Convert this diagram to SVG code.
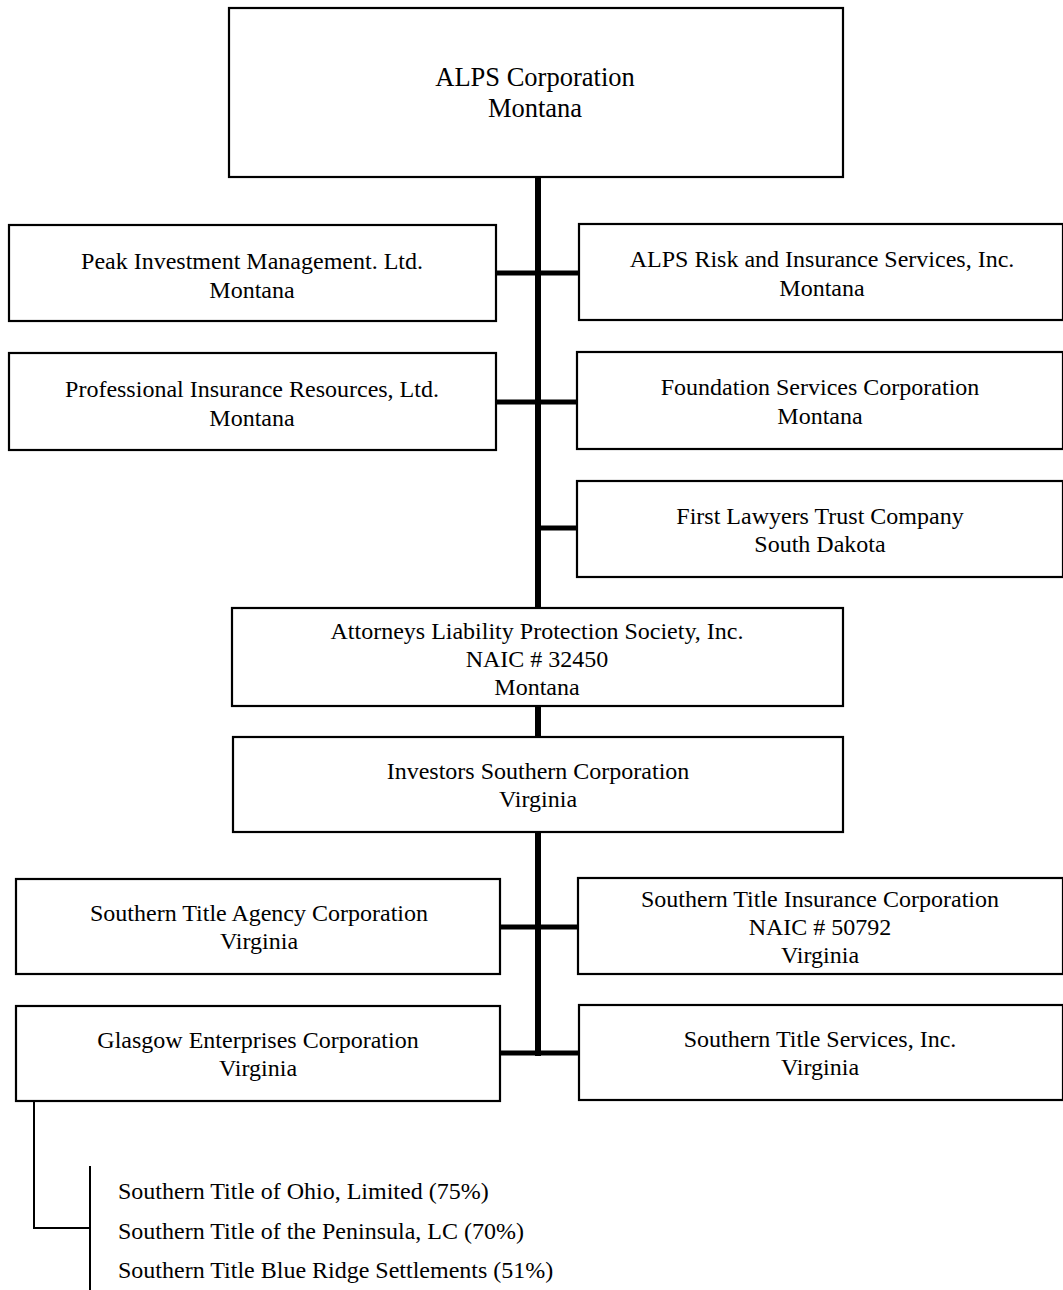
<svg xmlns="http://www.w3.org/2000/svg" width="1063" height="1290" viewBox="0 0 1063 1290">
<style>
.box{fill:#fff;stroke:#000;stroke-width:2.2}
text{font-family:"Liberation Serif","Times New Roman",serif;font-size:24px;fill:#000;text-anchor:middle}
.big{font-size:26.5px}
.list{text-anchor:start}
.trunk{stroke:#000;stroke-width:6;fill:none}
.br{stroke:#000;stroke-width:5;fill:none}
.thin{stroke:#000;stroke-width:2;fill:none}
</style>
<rect width="1063" height="1290" fill="#fff"/>
<g id="connectors">
<line class="trunk" x1="538" y1="177" x2="538" y2="608"/>
<line class="trunk" x1="538" y1="706" x2="538" y2="737"/>
<line class="trunk" x1="538" y1="832" x2="538" y2="1056"/>
<line class="br" x1="496" y1="273" x2="579" y2="273"/>
<line class="br" x1="496" y1="402" x2="577" y2="402"/>
<line class="br" x1="538" y1="528" x2="577" y2="528"/>
<line class="br" x1="500" y1="927" x2="578" y2="927"/>
<line class="br" x1="500" y1="1053" x2="579" y2="1053"/>
<polyline class="thin" points="34,1101 34,1228 90,1228"/>
<line class="thin" x1="90" y1="1166" x2="90" y2="1290"/>
</g>
<g id="alps-corporation">
<rect class="box" x="229" y="8" width="614" height="169"/>
<text class="big" x="535" y="86">ALPS Corporation</text>
<text class="big" x="535" y="117">Montana</text>
</g>
<g id="peak">
<rect class="box" x="9" y="225" width="487" height="96"/>
<text x="252" y="269">Peak Investment Management. Ltd.</text>
<text x="252" y="298">Montana</text>
</g>
<g id="alps-risk">
<rect class="box" x="579" y="224" width="484" height="96"/>
<text x="822" y="267">ALPS Risk and Insurance Services, Inc.</text>
<text x="822" y="296">Montana</text>
</g>
<g id="professional">
<rect class="box" x="9" y="353" width="487" height="97"/>
<text x="252" y="397">Professional Insurance Resources, Ltd.</text>
<text x="252" y="426">Montana</text>
</g>
<g id="foundation">
<rect class="box" x="577" y="352" width="486" height="97"/>
<text x="820" y="395">Foundation Services Corporation</text>
<text x="820" y="424">Montana</text>
</g>
<g id="first-lawyers">
<rect class="box" x="577" y="481" width="486" height="96"/>
<text x="820" y="524">First Lawyers Trust Company</text>
<text x="820" y="552">South Dakota</text>
</g>
<g id="attorneys">
<rect class="box" x="232" y="608" width="611" height="98"/>
<text x="537" y="639">Attorneys Liability Protection Society, Inc.</text>
<text x="537" y="667">NAIC # 32450</text>
<text x="537" y="695">Montana</text>
</g>
<g id="investors">
<rect class="box" x="233" y="737" width="610" height="95"/>
<text x="538" y="779">Investors Southern Corporation</text>
<text x="538" y="807">Virginia</text>
</g>
<g id="southern-title-agency">
<rect class="box" x="16" y="879" width="484" height="95"/>
<text x="259" y="921">Southern Title Agency Corporation</text>
<text x="259" y="949">Virginia</text>
</g>
<g id="southern-title-insurance">
<rect class="box" x="578" y="878" width="485" height="96"/>
<text x="820" y="907">Southern Title Insurance Corporation</text>
<text x="820" y="935">NAIC # 50792</text>
<text x="820" y="963">Virginia</text>
</g>
<g id="glasgow">
<rect class="box" x="16" y="1006" width="484" height="95"/>
<text x="258" y="1048">Glasgow Enterprises Corporation</text>
<text x="258" y="1076">Virginia</text>
</g>
<g id="southern-title-services">
<rect class="box" x="579" y="1005" width="484" height="95"/>
<text x="820" y="1047">Southern Title Services, Inc.</text>
<text x="820" y="1075">Virginia</text>
</g>
<g id="subsidiaries">
<text class="list" x="118" y="1199">Southern Title of Ohio, Limited (75%)</text>
<text class="list" x="118" y="1239">Southern Title of the Peninsula, LC (70%)</text>
<text class="list" x="118" y="1278">Southern Title Blue Ridge Settlements (51%)</text>
</g>
</svg>
